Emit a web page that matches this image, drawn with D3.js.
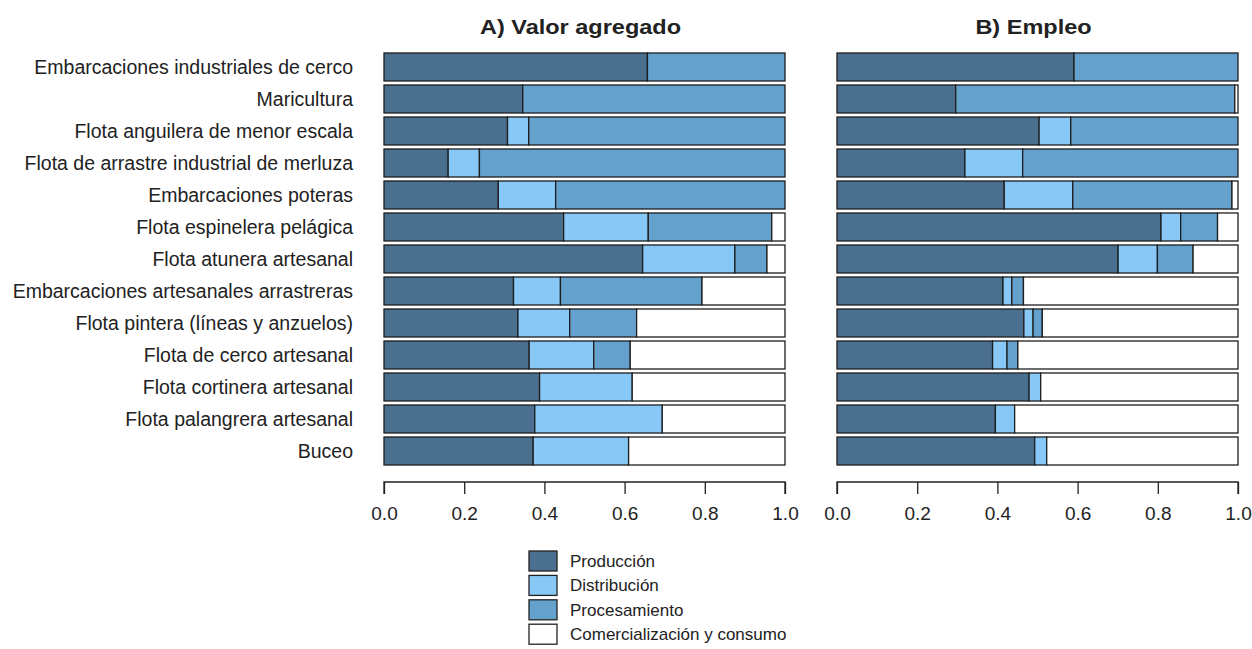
<!DOCTYPE html>
<html><head><meta charset="utf-8">
<script src="https://cdn.jsdelivr.net/npm/d3@7"></script>
<style>body{margin:0;background:#fff}svg{display:block}text{font-family:"Liberation Sans",Arial,sans-serif;fill:#222}</style>
</head><body><svg id="c" width="1252" height="649"></svg>
<script>
const categories = ["Embarcaciones industriales de cerco","Maricultura","Flota anguilera de menor escala","Flota de arrastre industrial de merluza","Embarcaciones poteras","Flota espinelera pelágica","Flota atunera artesanal","Embarcaciones artesanales arrastreras","Flota pintera (líneas y anzuelos)","Flota de cerco artesanal","Flota cortinera artesanal","Flota palangrera artesanal","Buceo"];
const seriesNames = ["Producción","Distribución","Procesamiento","Comercialización y consumo"];
const colors = ["#4b6f8e","#87c8f7","#65a1cd","#ffffff"];
// Panel A: Valor agregado (shares)
const valorProduccion    = [0.657,0.346,0.308,0.160,0.285,0.448,0.645,0.323,0.334,0.362,0.388,0.376,0.372];
const valorDistribucion  = [0.000,0.000,0.053,0.078,0.143,0.211,0.230,0.117,0.129,0.161,0.231,0.318,0.238];
const valorProcesamiento = [0.343,0.654,0.639,0.762,0.572,0.308,0.080,0.353,0.167,0.091,0.000,0.000,0.000];
const valorComercial     = [0.000,0.000,0.000,0.000,0.000,0.033,0.045,0.207,0.370,0.386,0.381,0.306,0.390];
// Panel B: Empleo (shares)
const empleoProduccion    = [0.591,0.296,0.504,0.319,0.417,0.808,0.701,0.414,0.466,0.388,0.479,0.395,0.493];
const empleoDistribucion  = [0.000,0.000,0.079,0.144,0.171,0.049,0.098,0.022,0.023,0.036,0.029,0.048,0.030];
const empleoProcesamiento = [0.409,0.696,0.417,0.537,0.397,0.092,0.089,0.029,0.023,0.027,0.000,0.000,0.000];
const empleoComercial     = [0.000,0.008,0.000,0.000,0.015,0.051,0.112,0.535,0.488,0.549,0.492,0.557,0.477];
const xTicks = [0,0.2,0.4,0.6,0.8,1.0];
const panelTitles = ["A) Valor agregado","B) Empleo"];

const svg = d3.select("#c");
const y = d3.scaleBand().domain(categories).range([51,467]).paddingInner(0.125).paddingOuter(0.0625);

function rows(s){return categories.map((c,i)=>{const o={cat:c};seriesNames.forEach((n,k)=>o[n]=s[k][i]);return o;});}
const panels = [
  {title:panelTitles[0], x0:384, x1:785, data:rows([valorProduccion,valorDistribucion,valorProcesamiento,valorComercial])},
  {title:panelTitles[1], x0:837, x1:1238, data:rows([empleoProduccion,empleoDistribucion,empleoProcesamiento,empleoComercial])}
];
const stack = d3.stack().keys(seriesNames);
panels.forEach(p=>{
  const x = d3.scaleLinear().domain([0,1]).range([p.x0,p.x1]);
  const g = svg.append("g");
  stack(p.data).forEach((layer,k)=>{
    g.selectAll(null).data(layer).join("rect")
      .filter(d=>d[1]-d[0]>0.0001)
      .attr("x",d=>x(d[0])).attr("width",d=>x(d[1])-x(d[0]))
      .attr("y",d=>y(d.data.cat)).attr("height",y.bandwidth())
      .attr("fill",colors[k]).attr("stroke","#1e1e1e").attr("stroke-width",1.3);
  });
  const ax = svg.append("g").attr("transform","translate(0,482)")
    .call(d3.axisBottom(x).tickValues(xTicks).tickFormat(d3.format(".1f")).tickSize(12).tickPadding(13));
  ax.select(".domain").attr("stroke","#222").attr("stroke-width",1.3).attr("d",`M${p.x0},12V0H${p.x1}V12`);
  ax.selectAll(".tick line").attr("stroke","#222").attr("stroke-width",1.3);
  ax.selectAll(".tick text").style("font-size","19px").attr("fill","#333");
  const cx = (p.x0+p.x1)/2-4;
  svg.append("text").attr("transform",`translate(${cx},34) scale(1.12,1)`).attr("text-anchor","middle")
    .style("font-size","21px").style("font-weight","bold").attr("fill","#111").text(p.title);
});
// category labels
svg.append("g").selectAll("text").data(categories).join("text")
  .attr("x",353).attr("y",d=>y(d)+y.bandwidth()/2).attr("dy","0.35em")
  .attr("text-anchor","end").style("font-size","19.5px").attr("fill","#333").text(d=>d);
// legend
const lg = svg.append("g");
seriesNames.forEach((n,k)=>{
  lg.append("rect").attr("x",529).attr("y",551+k*24.4).attr("width",28).attr("height",20)
    .attr("fill",colors[k]).attr("stroke","#222").attr("stroke-width",1.3);
  lg.append("text").attr("x",570).attr("y",561+k*24.4).attr("dy","0.35em")
    .style("font-size","17px").attr("fill","#333").text(n);
});
</script></body></html>
